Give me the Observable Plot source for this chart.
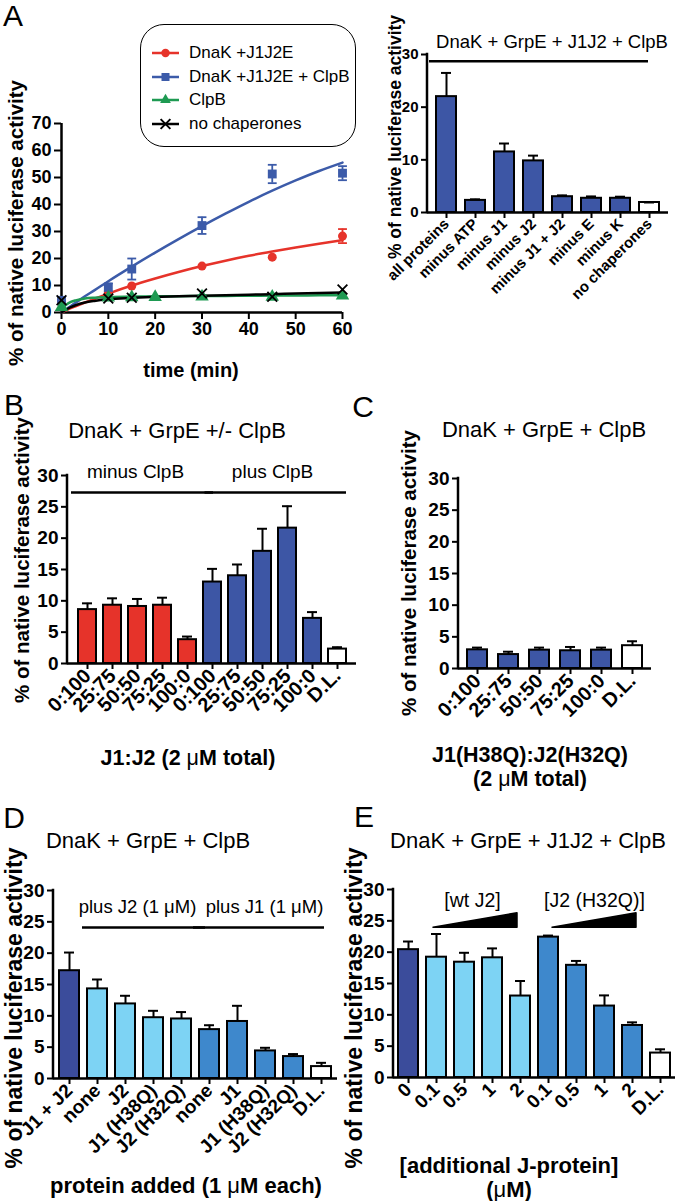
<!DOCTYPE html>
<html>
<head>
<meta charset="utf-8">
<script src="https://cdn.jsdelivr.net/npm/d3@7"></script>
<script src="https://cdn.jsdelivr.net/npm/@observablehq/plot@0.6"></script>
<style>
html, body { margin: 0; padding: 0; background: #fff; }
#root { position: relative; width: 677px; height: 1201px; overflow: hidden; font-family: "Liberation Sans", Arial, Helvetica, sans-serif; color: #000; background: #fff; }
.c { position: absolute; transform: translate(-50%, -50%); white-space: nowrap; line-height: 1.15; }
.rot { position: absolute; transform: translate(-50%, -50%) rotate(-90deg); white-space: nowrap; font-weight: bold; line-height: 1.15; }
.b { font-weight: bold; }
.mu { font-weight: normal; }
.panel { position: absolute; }
.panel svg { overflow: visible; }
.panel g[aria-label="x-axis tick"], .panel g[aria-label="y-axis tick"] { stroke-width: 2px; }
.pAR g[aria-label="x-axis tick label"], .pAR g[aria-label="y-axis tick label"] { font-size: 15px; }
.pB g[aria-label="y-axis tick label"], .pC g[aria-label="y-axis tick label"], .pD g[aria-label="y-axis tick label"], .pE g[aria-label="y-axis tick label"] { font-size: 19px; }
.pB g[aria-label="x-axis tick label"], .pC g[aria-label="x-axis tick label"] { font-size: 20px; }
.pD g[aria-label="x-axis tick label"], .pE g[aria-label="x-axis tick label"] { font-size: 19px; }
</style>
</head>
<body>
<div id="root"></div>
<script>
// ---------------- DATA ----------------
// Panel A (left): kinetics
const aXTicks = [0, 10, 20, 30, 40, 50, 60];
const aYTicks = [0, 10, 20, 30, 40, 50, 60, 70];
const seriesNames = ["DnaK +J1J2E", "DnaK +J1J2E + ClpB", "ClpB", "no chaperones"];
const seriesColors = ["#E6332A", "#3C5BA9", "#1E9A52", "#000000"];
const seriesSymbols = ["circle", "square", "triangle", "times"];

const redTime = [0, 10, 15, 30, 45, 60];
const redValue = [4.3, 7.2, 9.8, 17.2, 20.5, 28.3];
const redError = [0, 0, 0, 0, 0, 2.6];
const blueTime = [0, 10, 15, 30, 45, 60];
const blueValue = [4.5, 9.3, 16.1, 32.2, 51.3, 51.6];
const blueError = [0, 1.5, 3.9, 3.1, 3.4, 2.6];
const greenTime = [0, 10, 15, 20, 30, 45, 60];
const greenValue = [2.0, 5.5, 5.6, 5.7, 5.9, 5.8, 6.3];
const greenError = [0, 0, 0, 0, 0.5, 0, 0.5];
const blackTime = [0, 10, 15, 30, 45, 60];
const blackValue = [4.5, 5.2, 5.5, 7.0, 5.8, 8.5];
const blackError = [0, 0, 0, 0, 0, 0];

const fitTime = [0, 1, 2, 3, 5, 7, 10, 15, 20, 25, 30, 35, 40, 45, 50, 55, 60];
const redFit = [0, 0.8, 1.6, 2.3, 3.7, 5.0, 7.0, 10.0, 12.6, 15.0, 17.2, 19.2, 21.0, 22.6, 24.1, 25.5, 26.8];
const blueFit = [0, 1.2, 2.4, 3.6, 6.0, 8.2, 11.6, 17.0, 22.2, 27.2, 32.0, 36.6, 41.0, 45.1, 48.9, 52.4, 55.5];
const greenFit = [1.5, 2.9, 3.9, 4.5, 5.2, 5.5, 5.7, 5.9, 6.0, 6.05, 6.1, 6.15, 6.2, 6.25, 6.3, 6.35, 6.4];
const blackFit = [0, 1.1, 2.0, 2.7, 3.7, 4.3, 4.9, 5.4, 5.8, 6.0, 6.2, 6.4, 6.6, 6.8, 7.0, 7.2, 7.4];

// Panel A (right)
const arLabels = ["all proteins", "minus ATP", "minus J1", "minus J2", "minus J1 + J2", "minus E", "minus K", "no chaperones"];
const arValues = [22.0, 2.3, 11.5, 9.8, 3.0, 2.7, 2.7, 1.9];
const arErrors = [4.5, 0.2, 1.6, 1.0, 0.25, 0.35, 0.3, 0.0];
const arFills = ["#3D56A5", "#3D56A5", "#3D56A5", "#3D56A5", "#3D56A5", "#3D56A5", "#3D56A5", "#ffffff"];
const arYTicks = [0, 10, 20, 30];

// Panel B
const bLabels = ["0:100", "25:75", "50:50", "75:25", "100:0", "0:100", "25:75", "50:50", "75:25", "100:0", "D.L."];
const bValues = [8.6, 9.3, 9.1, 9.3, 3.8, 13.0, 14.0, 17.9, 21.6, 7.2, 2.3];
const bErrors = [1.0, 1.1, 1.2, 1.2, 0.5, 2.1, 1.8, 3.6, 3.5, 1.0, 0.3];
const bFills = ["#E6332A", "#E6332A", "#E6332A", "#E6332A", "#E6332A", "#3D56A5", "#3D56A5", "#3D56A5", "#3D56A5", "#3D56A5", "#ffffff"];
const bGroups = [{label: "minus ClpB", first: 0, last: 4, mid: 2}, {label: "plus ClpB", first: 5, last: 10, mid: 7}];

// Panel C
const cLabels = ["0:100", "25:75", "50:50", "75:25", "100:0", "D.L."];
const cValues = [2.95, 2.2, 2.9, 2.8, 2.9, 3.6];
const cErrors = [0.35, 0.45, 0.4, 0.6, 0.4, 0.7];
const cFills = ["#3D56A5", "#3D56A5", "#3D56A5", "#3D56A5", "#3D56A5", "#ffffff"];

const yTicks5 = [0, 5, 10, 15, 20, 25, 30];

// Panel D
const dLabels = ["J1 + J2", "none", "J2", "J1 (H38Q)", "J2 (H32Q)", "none", "J1", "J1 (H38Q)", "J2 (H32Q)", "D.L."];
const dValues = [17.2, 14.3, 11.9, 9.7, 9.5, 7.8, 9.1, 4.4, 3.5, 1.9];
const dErrors = [2.9, 1.5, 1.3, 1.1, 1.1, 0.7, 2.5, 0.5, 0.4, 0.6];
const dFills = ["#3B4C9B", "#7DD3F4", "#7DD3F4", "#7DD3F4", "#7DD3F4", "#3E88CC", "#3E88CC", "#3E88CC", "#3E88CC", "#ffffff"];
const dGroups = [{label: "plus J2 (1 \u03bcM)", first: 1, last: 4, mid: 2}, {label: "plus J1 (1 \u03bcM)", first: 5, last: 9, mid: 7}];

// Panel E
const eLabels = ["0", "0.1", "0.5", "1", "2", "0.1", "0.5", "1", "2", "D.L."];
const eValues = [20.4, 19.2, 18.4, 19.1, 13.0, 22.4, 17.9, 11.4, 8.3, 3.9];
const eErrors = [1.3, 3.7, 1.5, 1.5, 2.4, 0.25, 0.7, 1.7, 0.5, 0.6];
const eFills = ["#3B4C9B", "#7DD3F4", "#7DD3F4", "#7DD3F4", "#7DD3F4", "#3E88CC", "#3E88CC", "#3E88CC", "#3E88CC", "#ffffff"];
const eGroups = [{label: "[wt J2]", first: 1, last: 4, mid: 2}, {label: "[J2 (H32Q)]", first: 5, last: 8, mid: 7}];

// ---------------- HELPERS ----------------
const FONT = '"Liberation Sans", Arial, Helvetica, sans-serif';
const baseStyle = {fontFamily: FONT, fontSize: "18px", fontWeight: "bold", background: "transparent", overflow: "visible", color: "black", maxWidth: "none"};
const root = document.getElementById("root");

function addPlot(plot, left, top, cls) {
  const div = document.createElement("div");
  div.className = "panel " + cls;
  div.style.left = left + "px";
  div.style.top = top + "px";
  div.appendChild(plot);
  root.appendChild(div);
}
function addText(html, x, y, size, cls, rotate) {
  const el = document.createElement("div");
  el.className = (rotate ? "rot " : "c ") + (cls || "");
  el.style.left = x + "px";
  el.style.top = y + "px";
  el.style.fontSize = size + "px";
  el.innerHTML = html;
  root.appendChild(el);
}
function addLeftAxisLine(plot, domain) {
  const x = plot.scale("x"), y = plot.scale("y");
  const x0 = Math.min(...x.range);
  d3.select(plot).append("line")
    .attr("x1", x0).attr("x2", x0)
    .attr("y1", y.apply(domain[0])).attr("y2", y.apply(domain[1]))
    .attr("stroke", "black").attr("stroke-width", 2.5).attr("stroke-linecap", "square");
}
function barPanel(o) {
  const rows = o.labels.map((label, i) => ({i, label, value: o.values[i], err: o.errors[i], fill: o.fills[i]}));
  const plot = Plot.plot({
    width: o.width, height: o.height,
    marginLeft: o.ml, marginRight: o.mr, marginTop: o.mt, marginBottom: o.mb,
    style: baseStyle,
    x: {type: "band", domain: rows.map(d => d.i), paddingInner: o.pi, paddingOuter: o.po,
        tickRotate: -45, tickSize: 6, tickPadding: 3, tickFormat: i => o.labels[i], label: null},
    y: {domain: [0, 30], ticks: o.yTicks, tickSize: 6, label: null},
    color: {type: "identity"},
    marks: [
      Plot.barY(rows, {x: "i", y: "value", fill: d => d.fill, stroke: "black", strokeWidth: 2}),
      Plot.ruleX(rows, {x: "i", y1: "value", y2: d => d.value + d.err, stroke: "black", strokeWidth: 2}),
      Plot.tickY(rows, {x: "i", y: d => d.value + d.err, insetLeft: o.cap, insetRight: o.cap, stroke: "black", strokeWidth: 2}),
      Plot.ruleY([0], {stroke: "black", strokeWidth: 2.5}),
      ...(o.extra || [])
    ]
  });
  addLeftAxisLine(plot, [0, 30]);
  return plot;
}

// ---------------- PANEL A (left) ----------------
const capSymbol = {draw(ctx, size) { const w = Math.sqrt(size) / 2; ctx.moveTo(-w, 0); ctx.lineTo(w, 0); }};
const pts = [
  {t: redTime, v: redValue, e: redError, fit: redFit},
  {t: blueTime, v: blueValue, e: blueError, fit: blueFit},
  {t: greenTime, v: greenValue, e: greenError, fit: greenFit},
  {t: blackTime, v: blackValue, e: blackError, fit: blackFit}
];
const fitMarks = [], errMarks = [], dotMarks = [];
[0, 1, 2, 3].forEach(k => {
  const s = pts[k], color = seriesColors[k];
  const curve = fitTime.map((t, i) => ({t, y: s.fit[i]}));
  fitMarks.push(Plot.line(curve, {x: "t", y: "y", stroke: color, strokeWidth: 2.5, curve: "monotone-x"}));
  const rows = s.t.map((t, i) => ({t, v: s.v[i], e: s.e[i]}));
  const errRows = rows.filter(d => d.e > 0);
  errMarks.push(Plot.ruleX(errRows, {x: "t", y1: d => d.v - d.e, y2: d => d.v + d.e, stroke: color, strokeWidth: 1.8}));
  errMarks.push(Plot.dot(errRows, {x: "t", y: d => d.v + d.e, symbol: capSymbol, r: 5, stroke: color, fill: "none", strokeWidth: 1.8}));
  errMarks.push(Plot.dot(errRows, {x: "t", y: d => d.v - d.e, symbol: capSymbol, r: 5, stroke: color, fill: "none", strokeWidth: 1.8}));
  if (seriesSymbols[k] === "times") {
    dotMarks.push(Plot.dot(rows, {x: "t", y: "v", symbol: "times", r: 4.5, stroke: color, strokeWidth: 1.8, fill: "none"}));
  } else {
    dotMarks.push(Plot.dot(rows, {x: "t", y: "v", symbol: seriesSymbols[k], r: seriesSymbols[k] === "circle" ? 4.5 : 5, fill: color, stroke: "none"}));
  }
});
const plotAL = Plot.plot({
  width: 350, height: 250, marginLeft: 61, marginRight: 8, marginTop: 23, marginBottom: 38,
  style: baseStyle,
  x: {domain: [0, 60], ticks: aXTicks, tickSize: 7, tickPadding: 3, label: null},
  y: {domain: [0, 70], ticks: aYTicks, tickSize: 7, tickPadding: 3, label: null},
  marks: [
    Plot.ruleY([0], {stroke: "black", strokeWidth: 2.5}),
    Plot.ruleX([0], {stroke: "black", strokeWidth: 2.5}),
    ...fitMarks, ...errMarks, ...dotMarks
  ]
});
addPlot(plotAL, 0, 100, "pAL");

// legend
const leg = document.createElement("div");
leg.style.cssText = "position:absolute;left:140px;top:24px;width:216px;height:123px;border:1.5px solid #000;border-radius:24px;box-sizing:border-box;";
const symMap = {circle: d3.symbolCircle, square: d3.symbolSquare, triangle: d3.symbolTriangle, times: d3.symbolTimes};
seriesNames.forEach((name, k) => {
  const cy = 28 + k * 23.5;
  const color = seriesColors[k];
  const sym = seriesSymbols[k];
  const size = sym === "circle" ? 56 : (sym === "triangle" ? 50 : 64);
  const path = d3.symbol(symMap[sym], size)();
  const filled = sym !== "times";
  const row = document.createElement("div");
  row.style.cssText = `position:absolute;left:10px;top:${cy - 8}px;height:16px;`;
  row.innerHTML = `<svg width="30" height="16" style="position:absolute;left:0;top:0;overflow:visible">
    <line x1="1" x2="28" y1="8" y2="8" stroke="${color}" stroke-width="2.5"/>
    <path d="${path}" transform="translate(14.5,8)" fill="${filled ? color : "none"}" stroke="${filled ? "none" : color}" stroke-width="2"/></svg>`;
  leg.appendChild(row);
  const txt = document.createElement("div");
  txt.style.cssText = `position:absolute;left:48px;top:${cy}px;transform:translateY(-50%);font-size:17px;white-space:nowrap;line-height:1.15;`;
  txt.textContent = name;
  leg.appendChild(txt);
});
root.appendChild(leg);

// ---------------- PANEL A (right) ----------------
const plotAR = barPanel({
  labels: arLabels, values: arValues, errors: arErrors, fills: arFills, yTicks: arYTicks,
  width: 297, height: 270, ml: 47, mr: 9, mt: 14, mb: 98, pi: 0.3, po: 0.26, cap: 5,
  extra: [
    Plot.ruleY([{first: 0, last: 7}], {y: 28.7, x1: "first", x2: "last", insetLeft: -7, insetRight: 11, stroke: "black", strokeWidth: 2.5})
  ]
});
addPlot(plotAR, 380, 40, "pAR");

// ---------------- PANEL B ----------------
const plotB = barPanel({
  labels: bLabels, values: bValues, errors: bErrors, fills: bFills, yTicks: yTicks5,
  width: 360, height: 270, ml: 67, mr: 4, mt: 15, mb: 67, pi: 0.3, po: 0.27, cap: 4,
  extra: [
    Plot.ruleY([bGroups[0]], {y: 27.3, x1: "first", x2: "last", insetLeft: -7, insetRight: -17, stroke: "black", strokeWidth: 2.5}),
    Plot.ruleY([bGroups[1]], {y: 27.3, x1: "first", x2: "last", insetLeft: 1.5, insetRight: 0, stroke: "black", strokeWidth: 2.5}),
    Plot.text([bGroups[0]], {x: "mid", y: 30.6, text: "label", dx: -2, fontSize: 19, fontWeight: "normal"}),
    Plot.text([bGroups[1]], {x: "mid", y: 30.6, text: "label", dx: 10, fontSize: 19, fontWeight: "normal"})
  ]
});
addPlot(plotB, 0, 460, "pB");

// ---------------- PANEL C ----------------
const plotC = barPanel({
  labels: cLabels, values: cValues, errors: cErrors, fills: cFills, yTicks: yTicks5,
  width: 277, height: 275, ml: 58, mr: 26, mt: 18, mb: 67, pi: 0.36, po: 0.29, cap: 5
});
addPlot(plotC, 400, 460, "pC");

// ---------------- PANEL D ----------------
const plotD = barPanel({
  labels: dLabels, values: dValues, errors: dErrors, fills: dFills, yTicks: yTicks5,
  width: 345, height: 290, ml: 53, mr: 8, mt: 20, mb: 82, pi: 0.3, po: 0.14, cap: 5,
  extra: [
    Plot.ruleY([dGroups[0]], {y: 24.1, x1: "first", x2: "last", insetLeft: -5, insetRight: -14, stroke: "black", strokeWidth: 2.5}),
    Plot.ruleY([dGroups[1]], {y: 24.1, x1: "first", x2: "last", insetLeft: -6, insetRight: 7, stroke: "black", strokeWidth: 2.5}),
    Plot.text([dGroups[0]], {x: "mid", y: 27.3, text: "label", dx: 12, fontSize: 18.5, fontWeight: "normal"}),
    Plot.text([dGroups[1]], {x: "mid", y: 27.3, text: "label", dx: -1, fontSize: 18.5, fontWeight: "normal"})
  ]
});
addPlot(plotD, 0, 870, "pD");

// ---------------- PANEL E ----------------
const wedgePts = g => [{x: g.first, y1: 23.9, y2: 23.9}, {x: g.last, y1: 23.9, y2: 26.2}];
const plotE = barPanel({
  labels: eLabels, values: eValues, errors: eErrors, fills: eFills, yTicks: yTicks5,
  width: 337, height: 290, ml: 53, mr: 2, mt: 19, mb: 83, pi: 0.29, po: 0.14, cap: 5,
  extra: [
    Plot.area(wedgePts(eGroups[0]), {x1: "x", y1: "y1", y2: "y2", dx: -3, fill: "black", stroke: "black", strokeWidth: 1.5}),
    Plot.area(wedgePts(eGroups[1]), {x1: "x", y1: "y1", y2: "y2", dx: 4, fill: "black", stroke: "black", strokeWidth: 1.5}),
    Plot.text([eGroups[0]], {x: "mid", y: 28.2, text: "label", dx: 8, fontSize: 19.5, fontWeight: "normal"}),
    Plot.text([eGroups[1]], {x: "mid", y: 28.2, text: "label", dx: -10, fontSize: 19.5, fontWeight: "normal"})
  ]
});
addPlot(plotE, 340, 870, "pE");

// ---------------- TEXT ----------------
const yLab = "% of native luciferase activity";
const mu = '<span class="mu">\u03bc</span>';
addText("A", 13, 16, 30);
addText("B", 14, 405, 30);
addText("C", 363, 407, 30);
addText("D", 14, 818, 30);
addText("E", 364, 817, 30);

addText(yLab, 16, 223, 20.5, "", true);
addText("time (min)", 191, 370, 20, "b");

addText("DnaK + GrpE + J1J2 + ClpB", 552, 42, 18.5);
addText(yLab, 395, 137, 17.5, "", true);

addText("DnaK + GrpE +/- ClpB", 177, 431, 22);
addText(yLab, 22, 560, 20.5, "", true);
addText("J1:J2 (2 " + mu + "M total)", 188, 758, 21.5, "b");

addText("DnaK + GrpE + ClpB", 544, 430, 22);
addText(yLab, 409, 573, 20.5, "", true);
addText("J1(H38Q):J2(H32Q)", 530, 755, 21.5, "b");
addText("(2 " + mu + "M total)", 530, 779, 21.5, "b");

addText("DnaK + GrpE + ClpB", 148, 841, 22);
addText(yLab, 14, 1008, 23, "", true);
addText("protein added (1 " + mu + "M each)", 186, 1186, 22, "b");

addText("DnaK + GrpE + J1J2 + ClpB", 528, 841, 22);
addText(yLab, 354, 1008, 23, "", true);
addText("[additional J-protein]", 509, 1166, 22, "b");
addText("(" + mu + "M)", 509, 1190, 22, "b");
</script>
</body>
</html>
